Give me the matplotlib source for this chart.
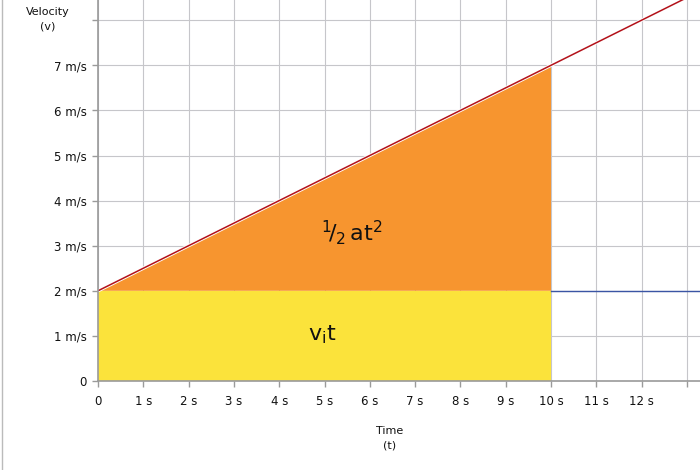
import matplotlib
matplotlib.use("Agg")
import matplotlib.pyplot as plt
from matplotlib.lines import Line2D

# ---- data ----
x_ticks = list(range(0, 14))
x_tick_labels = ["0"] + [f"{i} s" for i in range(1, 13)] + [""]
y_ticks = list(range(0, 9))
y_tick_labels = ["0"] + [f"{i} m/s" for i in range(1, 8)] + [""]

rect_t = [0, 10]          # v_i * t region
rect_v = [2, 2]
tri_t = [0, 10, 10]       # 1/2 a t^2 region
tri_v = [2, 7, 2]
red_t = [0, 14]           # velocity line
red_v = [2, 9]
blue_t = [10, 14]         # constant initial velocity line
blue_v = [2, 2]

plt.rcParams["font.family"] = ["DejaVu Sans"]
plt.rcParams["mathtext.fontset"] = "dejavusans"

fig = plt.figure(figsize=(7, 4.7), dpi=100)
ax = fig.add_axes([98 / 700, 89 / 470, 602 / 700, 381 / 470])
ax.set_xlim(0, 602 / 45.3)
ax.set_ylim(0, 381 / 45.1)

# grid
ax.set_xticks(x_ticks)
ax.set_xticklabels(x_tick_labels)
ax.set_yticks(y_ticks)
ax.set_yticklabels(y_tick_labels)
ax.grid(True, color="#c6c6ca", lw=0.8)
ax.set_axisbelow(True)

# filled regions
ax.fill_between(rect_t, 0, rect_v, color="#FBE33B", lw=0, zorder=2)
ax.fill(tri_t, tri_v, color="#F7952F", lw=0, zorder=2)

# lines
ax.plot(red_t, red_v, color="white", lw=2.4, zorder=3, solid_capstyle="butt")
ax.plot(red_t, red_v, color="#B3121A", lw=1.1, zorder=4, solid_capstyle="butt")
ax.plot(blue_t, blue_v, color="#3A55A4", lw=1.0, zorder=4)

# spines
for s in ["top", "right"]:
    ax.spines[s].set_visible(False)
for s in ["left", "bottom"]:
    ax.spines[s].set_color("#9a9a9a")
    ax.spines[s].set_linewidth(1.2)
    ax.spines[s].set_zorder(5)

ax.tick_params(axis="both", colors="#9a9a9a", length=4, width=1,
               labelcolor="#111111", labelsize=8.5)
ax.tick_params(axis="x", pad=6)
ax.tick_params(axis="y", pad=4)

# region labels
ax.text(5.6, 3.3, r"${}^{1}\!/{}_{2}\,\mathsf{at}^{2}$", fontsize=16,
        ha="center", va="center", zorder=6, color="#111111")
ax.text(4.95, 1.02, r"$\mathsf{v}_{\mathsf{i}}\mathsf{t}$", fontsize=16,
        ha="center", va="center", zorder=6, color="#111111")

# axis titles
fig.text(48 / 700, 1 - 19 / 470, "Velocity\n(v)", ha="center", va="center",
         fontsize=8, linespacing=1.6, color="#111111")
fig.text(390 / 700, 1 - 438 / 470, "Time\n(t)", ha="center", va="center",
         fontsize=8, linespacing=1.6, color="#111111")

# faint left border
fig.add_artist(Line2D([1.5 / 700, 1.5 / 700], [0, 1], transform=fig.transFigure,
                      color="#bbbbbb", lw=1))

fig.savefig("out.png", dpi=100)
